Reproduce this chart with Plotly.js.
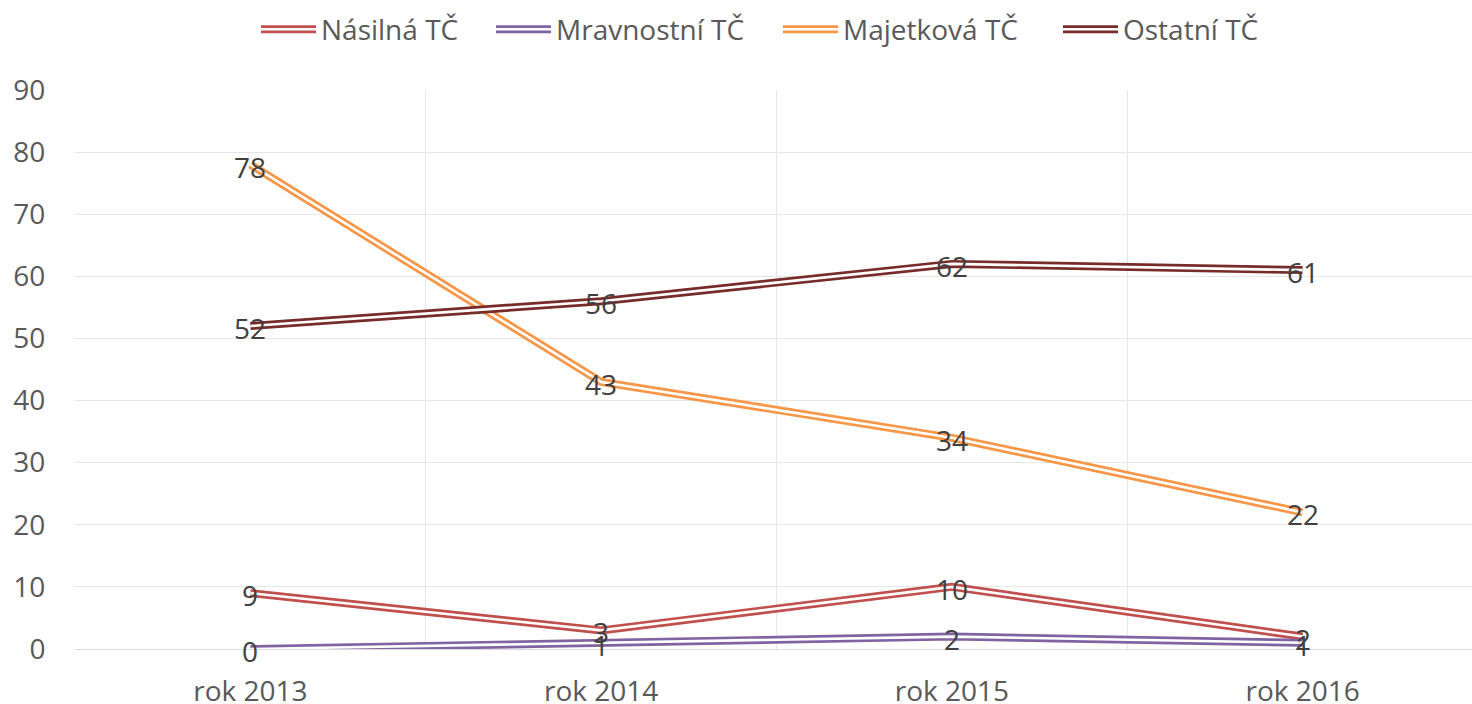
<!DOCTYPE html>
<html>
<head>
<meta charset="utf-8">
<script src="https://cdn.plot.ly/plotly-3.0.1.min.js"></script>
<style>html,body{margin:0;padding:0;background:#fff;}#chart{width:1472px;height:704px;}</style>
</head>
<body>
<div id="chart"></div>
<script>
const categories = ["rok 2013", "rok 2014", "rok 2015", "rok 2016"];
const seriesNames = ["Násilná TČ", "Mravnostní TČ", "Majetková TČ", "Ostatní TČ"];
const nasilna = [9, 3, 10, 2];
const mravnostni = [0, 1, 2, 1];
const majetkova = [78, 43, 34, 22];
const ostatni = [52, 56, 62, 61];
const yTicks = [0, 10, 20, 30, 40, 50, 60, 70, 80, 90];

const seriesValues = [nasilna, mravnostni, majetkova, ostatni];
const colors = ["#C0504D", "#8064A2", "#F79646", "#772C2A"];
const legendLeft = [256, 491, 778, 1058];
const FONT = "Open Sans, sans-serif";

const traces = [];
const annotations = [];
const legends = {};
function legendKey(n) { return n === 1 ? "legend" : "legend" + n; }

seriesValues.forEach((vals, i) => {
  const kColor = legendKey(2 * i + 1);
  const kWhite = legendKey(2 * i + 2);
  traces.push({
    type: "scatter", mode: "lines", x: categories, y: vals, name: seriesNames[i],
    line: {color: colors[i], width: 8}, cliponaxis: false, hoverinfo: "skip",
    legend: kColor
  });
  traces.push({
    type: "scatter", mode: "lines", x: categories, y: vals, name: seriesNames[i],
    line: {color: "#ffffff", width: 2.6}, cliponaxis: false, hoverinfo: "skip",
    legend: kWhite
  });
  const base = {
    orientation: "h", xref: "container", yref: "container",
    x: legendLeft[i] / 1472, xanchor: "left", y: 0.958, yanchor: "middle",
    itemwidth: 55, bgcolor: "rgba(0,0,0,0)", borderwidth: 0
  };
  legends[kColor] = Object.assign({}, base, {font: {family: FONT, size: 28, color: "#595959"}});
  legends[kWhite] = Object.assign({}, base, {font: {family: FONT, size: 28, color: "rgba(0,0,0,0)"}});
  vals.forEach((v, j) => {
    annotations.push({
      x: categories[j], y: v, xref: "x", yref: "y", text: String(v),
      showarrow: false, yshift: -2, xanchor: "center", yanchor: "middle",
      font: {family: FONT, size: 28, color: "#404040"}
    });
  });
});

const layout = Object.assign({
  width: 1472, height: 704,
  margin: {l: 75, r: 0, t: 90, b: 55},
  paper_bgcolor: "#ffffff", plot_bgcolor: "#ffffff",
  showlegend: true,
  font: {family: FONT, size: 28, color: "#595959"},
  annotations: annotations,
  xaxis: {
    type: "category", categoryorder: "array", categoryarray: categories,
    range: [-0.5, 3.483], tickson: "boundaries",
    showgrid: true, gridcolor: "#e6e6e6", gridwidth: 1,
    showline: true, linecolor: "#d9d9d9", linewidth: 1,
    ticks: "", ticklabelstandoff: 17,
    tickfont: {family: FONT, size: 28, color: "#595959"},
    zeroline: false, fixedrange: true
  },
  yaxis: {
    range: [0, 90], tickvals: yTicks, ticktext: yTicks.map(String),
    showgrid: true, gridcolor: "#e6e6e6", gridwidth: 1,
    zeroline: false, showline: false,
    ticks: "outside", ticklen: 23, tickcolor: "rgba(0,0,0,0)",
    tickfont: {family: FONT, size: 28, color: "#595959"},
    fixedrange: true
  }
}, legends);

Plotly.newPlot("chart", traces, layout, {displayModeBar: false, staticPlot: true});
</script>
</body>
</html>
